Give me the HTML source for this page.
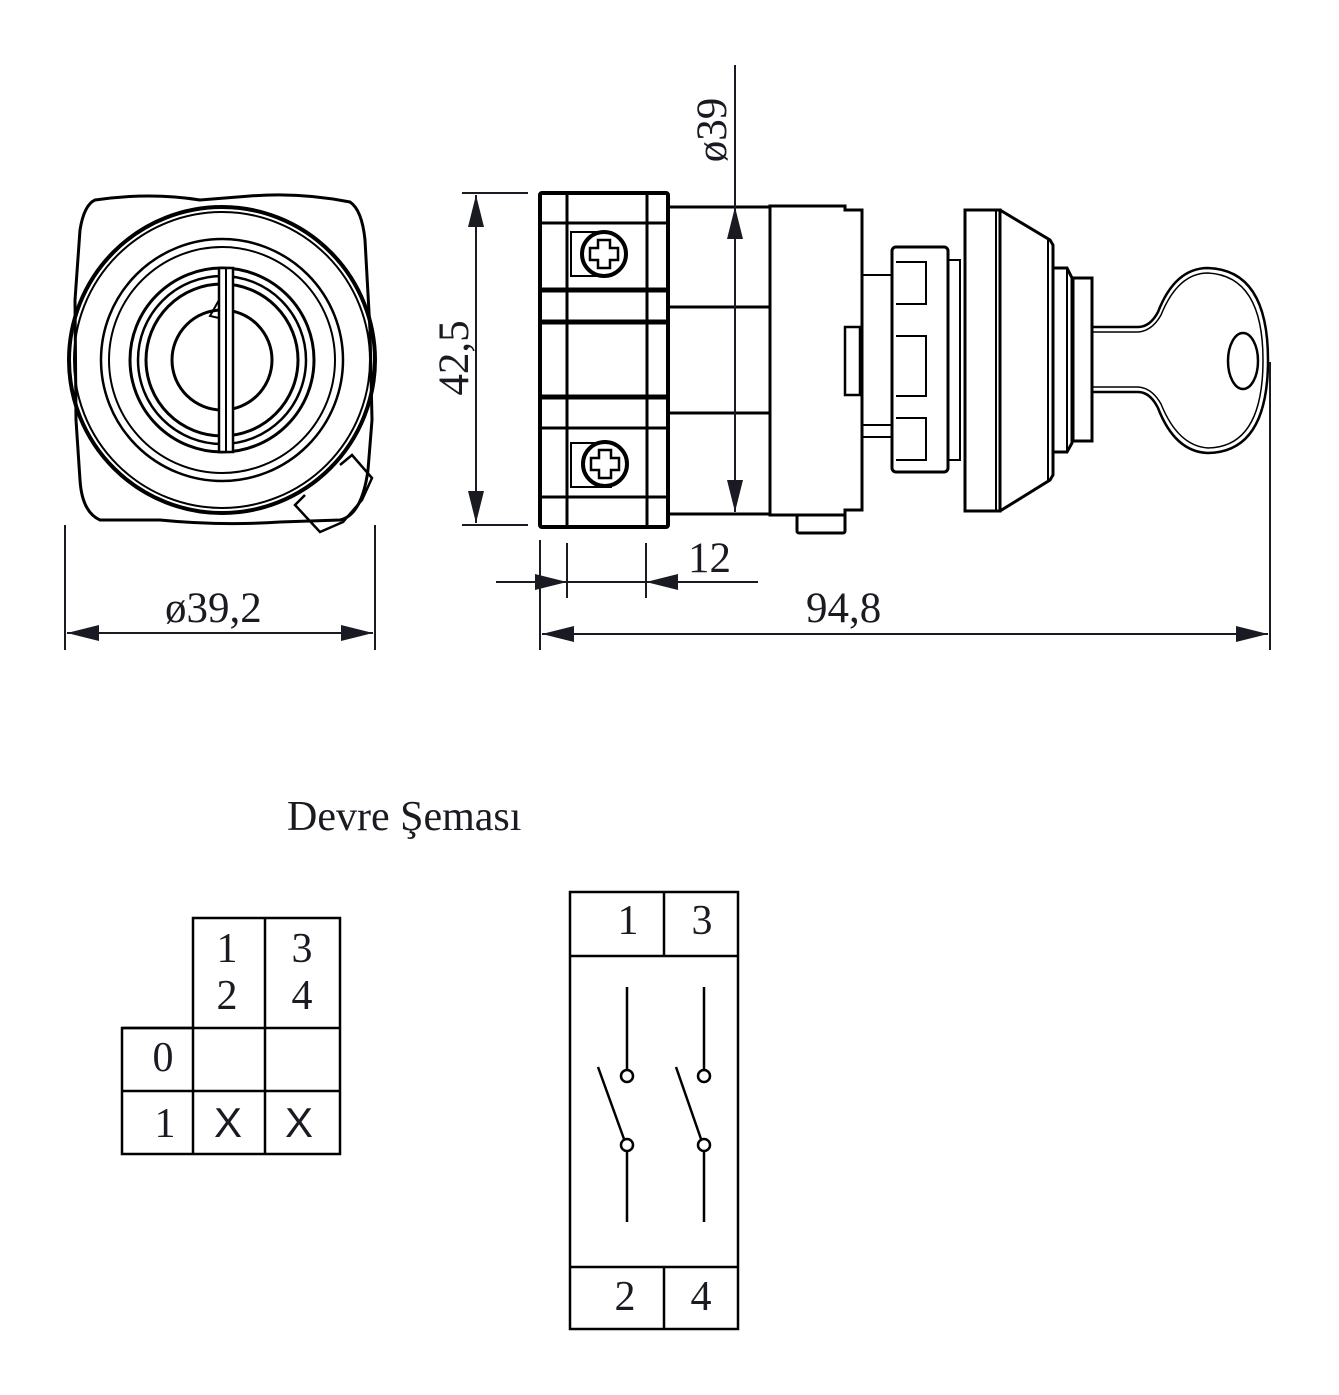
<!DOCTYPE html>
<html><head><meta charset="utf-8"><style>
html,body{margin:0;padding:0;background:#fff}
svg{display:block}
text{font-family:"Liberation Serif",serif;fill:#1a1a22}
text.s{font-family:"Liberation Sans",sans-serif}
</style></head><body>
<svg width="1339" height="1395" viewBox="0 0 1339 1395" xmlns="http://www.w3.org/2000/svg">
<defs>
<marker id="a" viewBox="0 0 32 16" refX="32" refY="8" markerWidth="32" markerHeight="16" markerUnits="userSpaceOnUse" orient="auto-start-reverse"><path d="M0,0 L32,8 L0,16 Z" fill="#1a1a22"/></marker>
</defs>
<g fill="none" stroke="#000" stroke-width="3">
<path d="M95,200 Q150,192 200,200 L250,196 Q300,192 350,202 Q362,210 365,240 L370,330 L372,420 L368,470 Q362,515 340,520 L280,522 Q220,526 160,520 L100,520 Q82,512 80,480 L76,420 L75,300 L80,230 Q84,205 95,200 Z"/>
<circle cx="222" cy="360" r="153" stroke-width="4"/>
<circle cx="222" cy="360" r="148" stroke-width="2"/>
<circle cx="222" cy="360" r="121" stroke-width="2.5"/>
<circle cx="222" cy="360" r="113" stroke-width="2"/>
<circle cx="222" cy="360" r="92" stroke-width="3"/>
<circle cx="222" cy="360" r="84" stroke-width="2.5"/>
<circle cx="222" cy="360" r="76" stroke-width="3"/>
<circle cx="222" cy="360" r="50" stroke-width="3"/>
<rect x="219" y="268" width="14" height="184" fill="#fff" stroke-width="2.5"/>
<line x1="226" y1="268" x2="226" y2="452" stroke-width="2"/>
<path d="M219,300 L210,316 L219,318" stroke-width="2"/>
<path d="M340,465 L352,455 L372,478 L362,500 L343,522 L320,532 L295,505 L305,495" stroke-width="2.5"/>
<rect x="540" y="193" width="128" height="334" stroke-width="4" rx="2"/>
<line x1="567" y1="193" x2="567" y2="527" stroke-width="3"/>
<line x1="647" y1="193" x2="647" y2="527" stroke-width="3"/>
<line x1="540" y1="223" x2="668" y2="223"/>
<line x1="540" y1="290" x2="668" y2="290" stroke-width="5"/>
<line x1="540" y1="322" x2="668" y2="322" stroke-width="5"/>
<line x1="540" y1="397" x2="668" y2="397" stroke-width="5"/>
<line x1="540" y1="428" x2="668" y2="428"/>
<line x1="540" y1="497" x2="668" y2="497"/>
<rect x="571" y="232" width="40" height="44" stroke-width="2"/>
<circle cx="604" cy="254" r="22" fill="#fff" stroke-width="4"/>
<path d="M598,240 h12 v8 h8 v12 h-8 v8 h-12 v-8 h-8 v-12 h8 Z" stroke-width="2.5"/>
<rect x="571" y="443" width="40" height="44" stroke-width="2"/>
<circle cx="605" cy="464" r="22" fill="#fff" stroke-width="4"/>
<path d="M599,450 h12 v8 h8 v12 h-8 v8 h-12 v-8 h-8 v-12 h8 Z" stroke-width="2.5"/>
<rect x="668" y="207" width="102" height="307"/>
<line x1="668" y1="307" x2="770" y2="307"/>
<line x1="668" y1="413" x2="770" y2="413"/>
<path d="M770,206 H845 V210 H862 V510 H845 V515 H770 Z"/>
<rect x="845" y="327" width="15" height="68" stroke-width="2.5"/>
<rect x="797" y="515" width="48" height="18" rx="2"/>
<line x1="862" y1="275" x2="892" y2="275" stroke-width="2"/>
<line x1="862" y1="425" x2="892" y2="425" stroke-width="2"/>
<line x1="862" y1="437" x2="892" y2="437" stroke-width="2"/>
<rect x="892" y="247" width="56" height="225" rx="4"/>
<line x1="948" y1="253" x2="948" y2="466" stroke-width="2"/>
<rect x="948" y="260" width="12" height="200" stroke-width="2"/>
<path d="M896,262 h30 v42 h-30 M896,336 h30 v60 h-30 M896,418 h30 v42 h-30" stroke-width="2"/>
<rect x="965" y="210" width="35" height="301" stroke-width="3"/>
<line x1="996" y1="210" x2="996" y2="511" stroke-width="2"/>
<path d="M1000,210 L1050,240 L1053,245 V475 L1050,480 L1000,511" stroke-width="3"/>
<line x1="1048" y1="240" x2="1048" y2="480" stroke-width="2"/>
<path d="M1053,268 H1067 L1072,278 V443 L1067,452 H1053" stroke-width="3"/>
<line x1="1067" y1="268" x2="1067" y2="452" stroke-width="2"/>
<rect x="1073" y="278" width="19" height="163" stroke-width="3"/>
<path d="M1092,327 H1138 Q1150,327 1158,312 Q1175,268 1208,268 Q1268,270 1268,360 Q1268,452 1208,453 Q1175,452 1158,408 Q1150,392 1138,392 H1092" stroke-width="2.5"/>
<path d="M1092,332 H1138 Q1152,331 1161,315 Q1178,273 1208,273 Q1263,276 1263,360 Q1263,447 1208,448 Q1178,446 1161,404 Q1152,388 1138,387 H1092" stroke-width="1.5"/>
<ellipse cx="1243" cy="361" rx="15" ry="28" stroke-width="2.5"/>
<g stroke-width="2.5">
<path d="M193,918 H340 V1154 H122 V1028 H193 Z"/>
<line x1="265" y1="918" x2="265" y2="1154"/>
<line x1="193" y1="1028" x2="193" y2="1154"/>
<line x1="122" y1="1028" x2="340" y2="1028"/>
<line x1="122" y1="1091" x2="340" y2="1091"/>
<rect x="570" y="892" width="168" height="437"/>
<line x1="570" y1="956" x2="738" y2="956"/>
<line x1="570" y1="1267" x2="738" y2="1267"/>
<line x1="664" y1="892" x2="664" y2="956"/>
<line x1="664" y1="1267" x2="664" y2="1329"/>
<line x1="627" y1="987" x2="627" y2="1070"/><circle cx="627" cy="1076" r="6"/>
<circle cx="627" cy="1145" r="6"/><line x1="627" y1="1151" x2="627" y2="1222"/>
<line x1="598" y1="1067" x2="624" y2="1139"/>
<line x1="704" y1="987" x2="704" y2="1070"/><circle cx="704" cy="1076" r="6"/>
<circle cx="704" cy="1145" r="6"/><line x1="704" y1="1151" x2="704" y2="1222"/>
<line x1="676" y1="1067" x2="701" y2="1139"/>
</g>
</g>
<g stroke="#1a1a22" stroke-width="2" fill="none">
<line x1="65" y1="525" x2="65" y2="650"/>
<line x1="375" y1="525" x2="375" y2="650"/>
<line x1="67" y1="633" x2="373" y2="633" marker-start="url(#a)" marker-end="url(#a)"/>
<line x1="462" y1="193" x2="528" y2="193"/>
<line x1="462" y1="525" x2="528" y2="525"/>
<line x1="476" y1="195" x2="476" y2="523" marker-start="url(#a)" marker-end="url(#a)"/>
<line x1="735" y1="65" x2="735" y2="207"/>
<line x1="735" y1="207" x2="735" y2="512" marker-start="url(#a)" marker-end="url(#a)"/>
<line x1="540" y1="540" x2="540" y2="650"/>
<line x1="567" y1="543" x2="567" y2="598"/>
<line x1="646" y1="543" x2="646" y2="598"/>
<line x1="496" y1="582" x2="567" y2="582" marker-end="url(#a)"/>
<line x1="567" y1="582" x2="646" y2="582"/>
<line x1="758" y1="582" x2="646" y2="582" marker-end="url(#a)"/>
<line x1="1270" y1="362" x2="1270" y2="650"/>
<line x1="542" y1="634" x2="1268" y2="634" marker-start="url(#a)" marker-end="url(#a)"/>
</g>
<text x="165" y="622" font-size="43">ø39,2</text>
<text x="806" y="622" font-size="43">94,8</text>
<text x="688" y="572" font-size="43">12</text>
<text transform="translate(468,358) rotate(-90)" font-size="43" text-anchor="middle">42,5</text>
<text transform="translate(726,130) rotate(-90)" font-size="43" text-anchor="middle">ø39</text>
<text x="287" y="830" font-size="42">Devre Şeması</text>
<g font-size="42" text-anchor="middle">
<text x="227" y="962">1</text><text x="302" y="962">3</text>
<text x="227" y="1009">2</text><text x="302" y="1009">4</text>
<text x="163" y="1071">0</text>
<text x="165" y="1137">1</text>
<text class="s" x="228" y="1137">X</text>
<text class="s" x="299" y="1137">X</text>
<text x="628" y="934">1</text><text x="702" y="934">3</text>
<text x="625" y="1310">2</text><text x="701" y="1310">4</text>
</g>
</svg>
</body></html>
